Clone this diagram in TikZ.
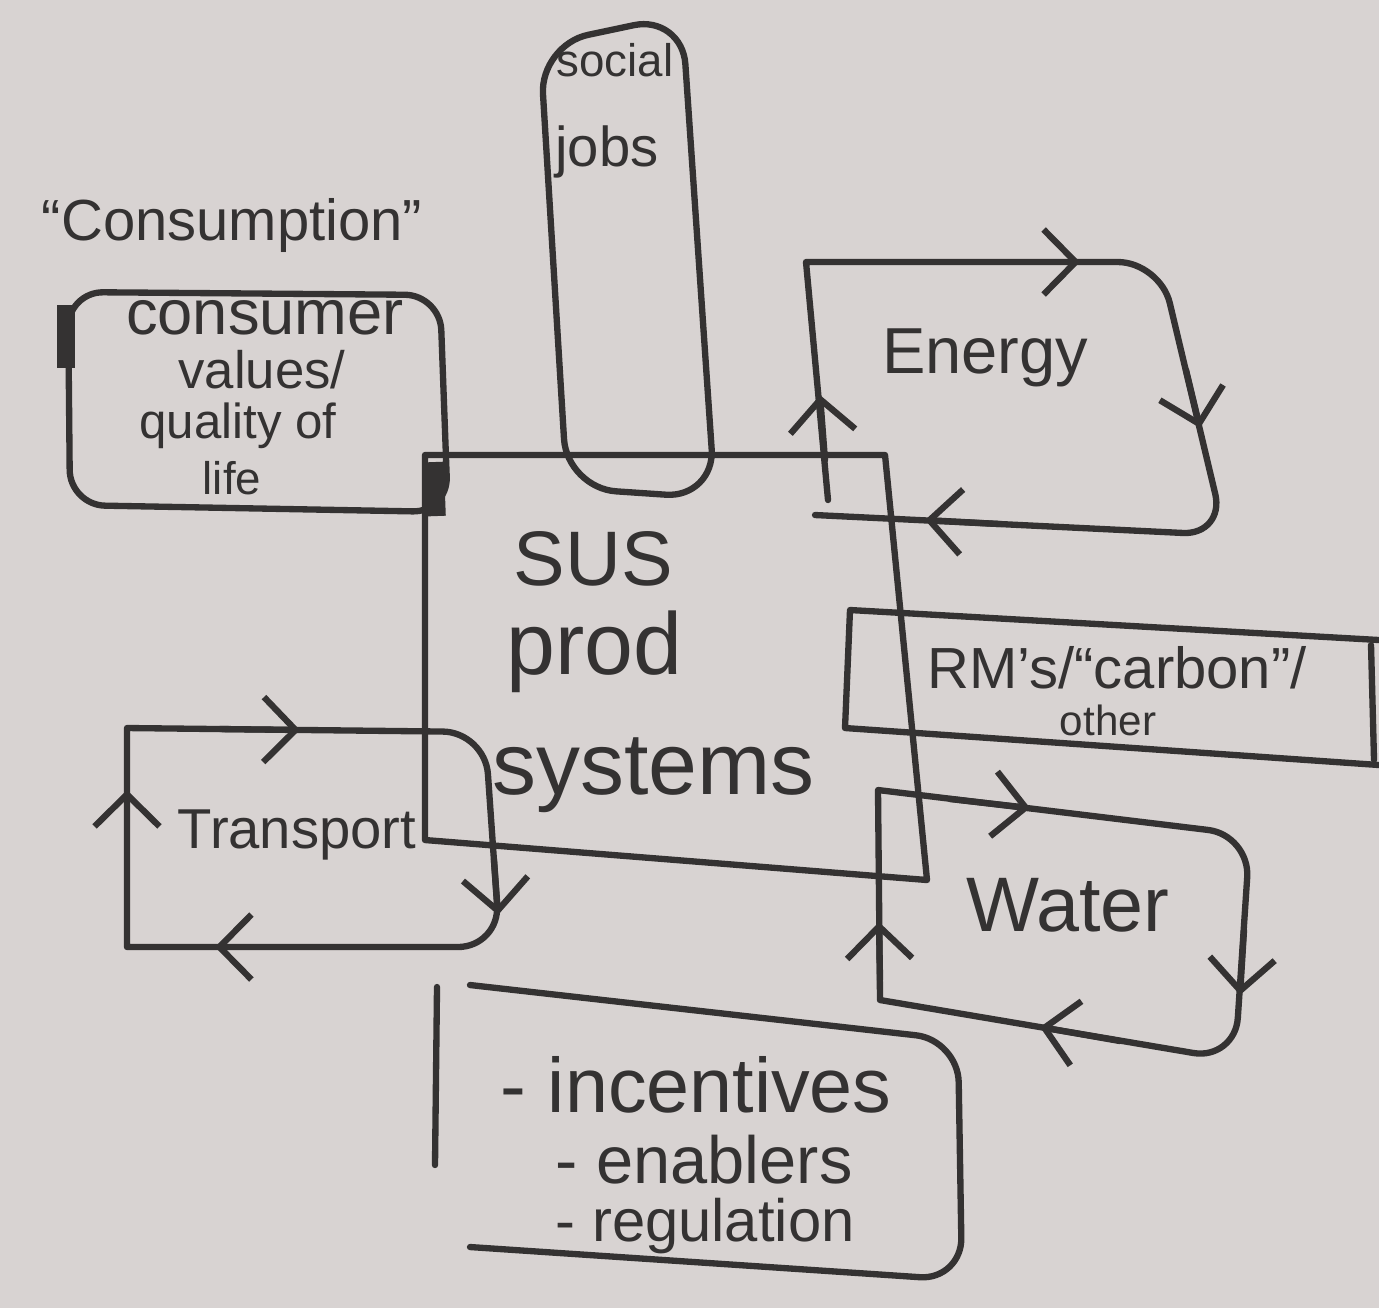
\documentclass[tikz,border=0pt]{standalone}
\usepackage{fontspec}
\setmainfont{Liberation Sans}
\usetikzlibrary{arrows.meta}

\definecolor{paper}{RGB}{216,211,210}
\definecolor{ink}{RGB}{52,50,50}

\newcommand{\fs}[1]{\fontsize{#1}{#1}\selectfont}

\tikzset{
  pen/.style={line width=1.8pt, draw=ink, line join=round, line cap=round},
  flowtip/.style={pen, -{Straight Barb[length=3.2mm,width=6.5mm,line width=1.8pt]}},
  hand/.style={text=ink, inner sep=0pt},
}

\begin{document}
\begin{tikzpicture}[x=0.1mm,y=-0.1mm]
\fill[paper] (0,0) rectangle (1379,1308);
\useasboundingbox (0,0) rectangle (1379,1308);

% consumption box
\node[hand] (consumption) at (232,225) {\fs{16.5}“Consumption”};
\draw[pen, rounded corners=10pt] (68,292) -- (440,295) -- (448,512) -- (70,505) -- cycle;
\draw[ink, line width=5pt] (66,305) -- (66,368);
\node[hand] (consumer) at (265,318) {\fs{18}consumer};
\node[hand] (values) at (262,370) {\fs{15}values/};
\node[hand] (quality) at (238,426) {\fs{14}quality of};
\node[hand] (life) at (232,478) {\fs{13}life};

% social column
\draw[pen, rounded corners=14pt] (540,45) -- (682,15) -- (715,498) -- (567,488) -- cycle;
\node[hand] (social) at (615,60) {\fs{13}social};
\node[hand] (jobs) at (607,152) {\fs{16}jobs};

% central box
\draw[pen] (885,455) -- (425,455) -- (425,840) -- (927,880) -- cycle;
\draw[ink, line width=5pt] (435,462) -- (437,516);
\node[hand, anchor=west, align=left] (sus) at (492,672)
  {\fs{22}\hspace*{6pt}SUS\\[6pt]\fs{25}\hspace*{4pt}prod\\[12pt]\fs{25}systems};

% energy loop
\draw[pen] (828,500) -- (806,262) [rounded corners=12pt] -- (1160,262) -- (1225,535) -- (815,515);
\draw[flowtip] (825,460) -- (820,395);
\draw[flowtip] (1000,262) -- (1080,262);
\draw[flowtip] (1186,370) -- (1200,428);
\draw[flowtip] (1000,524) -- (925,520);
\node[hand] (energy) at (985,358) {\fs{18.5}Energy};

% raw materials box
\draw[pen] (1379,640) -- (850,610) -- (845,728) -- (1379,765);
\draw[pen] (1371,645) -- (1374,760);
\node[hand] (rms) at (1117,668) {\fs{16.5}RM's/“carbon”/};
\node[hand] (other) at (1108,720) {\fs{12}other};

% transport loop
\draw[pen] (127,947) -- (127,728) [rounded corners=12pt] -- (485,732) -- (500,947) [sharp corners] -- cycle;
\draw[flowtip] (220,729) -- (300,730);
\draw[flowtip] (494,860) -- (498,915);
\draw[flowtip] (300,947) -- (215,947);
\draw[flowtip] (127,850) -- (127,790);
\node[hand] (transport) at (297,835) {\fs{16}Transport};

% water loop
\draw[pen] (880,1000) -- (878,790) [rounded corners=12pt] -- (1250,835) -- (1235,1060) [sharp corners] -- cycle;
\draw[flowtip] (950,799) -- (1030,808);
\draw[flowtip] (1244,930) -- (1240,995);
\draw[flowtip] (1120,1041) -- (1040,1027);
\draw[flowtip] (880,980) -- (879,922);
\node[hand] (water) at (1068,905) {\fs{22}Water};

% policy box
\draw[pen] (437,987) -- (435,1165);
\draw[pen, rounded corners=12pt] (470,985) -- (958,1040) -- (962,1280) -- (470,1247);
\node[hand, anchor=west] (incentives) at (500,1085) {\fs{22}- incentives};
\node[hand, anchor=west] (enablers) at (555,1160) {\fs{19}- enablers};
\node[hand, anchor=west] (regulation) at (555,1226) {\fs{17}- regulation};

\end{tikzpicture}
\end{document}
